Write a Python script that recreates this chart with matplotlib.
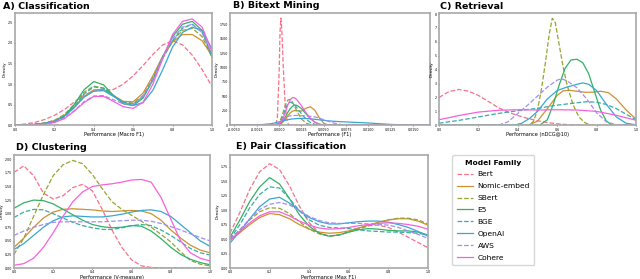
import matplotlib
matplotlib.use("Agg")
import matplotlib.pyplot as plt

families = ["Bert", "Nomic-embed", "SBert", "E5", "BGE", "OpenAI", "AWS", "Cohere"]
colors = ["#f77189", "#ce9032", "#97a431", "#32b166", "#36ada4", "#39a7d0", "#a48cf4", "#f561dd"]
styles = ["--", "-", "--", "-", "--", "-", "--", "-"]

# shared x grid for panels A, D, E
grid = [0.0, 0.05, 0.1, 0.15, 0.2, 0.25, 0.3, 0.35, 0.4, 0.45, 0.5,
        0.55, 0.6, 0.65, 0.7, 0.75, 0.8, 0.85, 0.9, 0.95, 1.0]

# A) Classification
cls_y = {
    "Bert":        [.01, .03, .07, .14, .24, .38, .56, .73, .83, .85, .87, 1.0, 1.2, 1.45, 1.72, 1.95, 2.05, 1.95, 1.70, 1.35, .94],
    "Nomic-embed": [0, .01, .02, .05, .11, .24, .45, .70, .86, .87, .72, .58, .57, .78, 1.20, 1.68, 2.02, 2.20, 2.20, 2.05, 1.68],
    "SBert":       [0, .01, .03, .06, .12, .26, .50, .80, .95, .90, .72, .56, .54, .72, 1.15, 1.65, 2.05, 2.30, 2.35, 2.15, 1.65],
    "E5":          [0, .01, .02, .04, .09, .22, .50, .86, 1.06, .98, .72, .52, .48, .66, 1.10, 1.66, 2.15, 2.45, 2.52, 2.30, 1.65],
    "BGE":         [0, .01, .02, .04, .09, .20, .44, .76, .93, .90, .72, .55, .52, .68, 1.10, 1.62, 2.05, 2.35, 2.45, 2.25, 1.70],
    "OpenAI":      [0, .01, .02, .05, .10, .22, .42, .68, .83, .84, .70, .56, .48, .55, .85, 1.35, 1.90, 2.25, 2.38, 2.30, 1.85],
    "AWS":         [0, 0, .01, .03, .07, .17, .35, .57, .71, .72, .62, .52, .52, .70, 1.12, 1.65, 2.10, 2.38, 2.45, 2.25, 1.72],
    "Cohere":      [0, 0, .01, .03, .07, .16, .34, .55, .70, .70, .58, .45, .41, .56, 1.00, 1.62, 2.20, 2.52, 2.58, 2.38, 1.78],
}

# B) Bitext Mining
bit_grid = [-0.0055, -0.005, -0.0025, -0.001, -0.0005, -0.00025, 0.0, 0.00025, 0.0005, 0.00075,
            0.001, 0.00125, 0.0015, 0.00175, 0.002, 0.0025, 0.003, 0.0035, 0.004, 0.0045,
            0.005, 0.0055, 0.006, 0.0065, 0.007, 0.0075, 0.01, 0.0125, 0.015, 0.0169]
bit_bert_x = [-0.0055, -0.0004, -0.0002, 0.0, 0.0001, 0.0002, 0.0003, 0.0005, 0.0007, 0.0009, 0.0011, 0.0169]
bit_bert_y = [0, 0, 120, 900, 1600, 1855, 1650, 900, 300, 60, 0, 0]
bit_y = {
    "Nomic-embed": [0, 0, 0, 0, 0, 2, 10, 30, 70, 120, 170, 215, 245, 255, 250, 245, 295, 320, 260, 130, 35, 6, 0, 0, 0, 0, 0, 0, 0, 0],
    "SBert":       [0, 0, 0, 0, 0, 5, 40, 130, 250, 370, 440, 450, 400, 320, 240, 110, 40, 10, 2, 0, 0, 0, 0, 0, 0, 0, 0, 0, 0, 0],
    "E5":          [0, 0, 0, 0, 0, 2, 15, 40, 90, 160, 230, 290, 330, 350, 345, 290, 200, 115, 55, 20, 6, 1, 0, 0, 0, 0, 0, 0, 0, 0],
    "BGE":         [0, 0, 0, 0, 0, 3, 25, 90, 190, 300, 380, 400, 385, 350, 300, 200, 110, 50, 18, 5, 1, 0, 0, 0, 0, 0, 0, 0, 0, 0],
    "OpenAI":      [0, 1, 5, 25, 40, 50, 60, 70, 80, 90, 98, 105, 110, 114, 117, 120, 118, 112, 104, 95, 86, 78, 71, 66, 62, 58, 40, 15, 3, 0],
    "AWS":         [0, 0, 0, 2, 10, 25, 50, 85, 115, 140, 155, 163, 168, 170, 170, 167, 162, 155, 145, 125, 98, 70, 45, 25, 12, 5, 0, 0, 0, 0],
    "Cohere":      [0, 0, 0, 0, 0, 3, 20, 60, 140, 250, 360, 440, 480, 475, 440, 340, 220, 120, 55, 20, 6, 1, 0, 0, 0, 0, 0, 0, 0, 0],
}

# C) Retrieval (own x points per family)
ret_x = {
    "Bert":        [0, .05, .1, .15, .2, .25, .3, .35, .4, .45, .5, .55, .6, .65, .7, .75, .8, 1.0],
    "Nomic-embed": [0, .45, .5, .55, .6, .63, .66, .7, .74, .78, .82, .86, .9, .95, 1.0],
    "SBert":       [0, .46, .48, .5, .52, .54, .56, .575, .59, .61, .63, .65, .68, .71, .74, .77, 1.0],
    "E5":          [0, .51, .55, .58, .61, .64, .67, .70, .73, .76, .79, .82, .85, .88, 1.0],
    "BGE":         [0, .1, .2, .3, .4, .5, .6, .7, .75, .8, .85, .9, .95, 1.0],
    "OpenAI":      [0, .38, .42, .46, .5, .55, .6, .65, .7, .73, .76, .8, .85, .9, .95, 1.0],
    "AWS":         [0, .3, .35, .4, .45, .5, .55, .6, .62, .65, .7, .75, .8, .85, .9, 1.0],
    "Cohere":      [0, .1, .2, .3, .4, .5, .6, .7, .8, .9, 1.0],
}
ret_y = {
    "Bert":        [2.0, 2.42, 2.58, 2.45, 2.15, 1.72, 1.28, .95, .7, .5, .33, .2, .11, .05, .02, .01, 0, 0],
    "Nomic-embed": [0, 0, .3, 1.2, 2.15, 2.48, 2.52, 2.45, 2.38, 2.38, 2.45, 2.35, 1.9, 1.1, .45],
    "SBert":       [0, 0, .3, 1.1, 2.6, 4.5, 6.6, 7.7, 7.4, 5.8, 4.2, 2.9, 1.5, .6, .2, 0, 0],
    "E5":          [0, 0, .4, 1.5, 2.9, 4.1, 4.7, 4.75, 4.5, 3.7, 2.4, 1.1, .3, 0, 0],
    "BGE":         [.15, .35, .6, .85, 1.05, 1.22, 1.45, 1.62, 1.7, 1.66, 1.5, 1.2, .8, .4],
    "OpenAI":      [0, 0, .15, .5, 1.0, 1.9, 2.5, 2.75, 2.95, 3.05, 2.95, 2.5, 1.5, .6, .15, .03],
    "AWS":         [0, 0, .25, .85, 1.45, 2.1, 2.75, 3.25, 3.35, 3.2, 2.7, 1.9, .9, .25, .03, 0],
    "Cohere":      [.4, .7, .95, 1.08, 1.12, 1.1, 1.12, 1.1, 1.0, .72, .36],
}

# D) Clustering
clu_y = {
    "Bert":        [1.76, 1.88, 1.70, 1.38, 1.27, 1.33, 1.48, 1.54, 1.42, 1.08, .70, .38, .15, .04, .01, 0, 0, 0, 0, 0, 0],
    "Nomic-embed": [.38, .55, .75, .92, 1.03, 1.08, 1.09, 1.08, 1.07, 1.05, 1.04, 1.05, 1.06, 1.05, 1.0, .88, .70, .55, .42, .33, .28],
    "SBert":       [.25, .55, .95, 1.35, 1.70, 1.90, 1.98, 1.92, 1.72, 1.46, 1.22, 1.08, .97, .86, .75, .62, .48, .30, .14, .07, .04],
    "E5":          [1.1, 1.2, 1.25, 1.24, 1.18, 1.08, .98, .88, .80, .76, .74, .75, .78, .77, .68, .54, .38, .25, .16, .10, .06],
    "BGE":         [.93, 1.03, 1.08, 1.07, 1.0, .92, .84, .78, .74, .71, .71, .74, .78, .80, .78, .70, .60, .48, .36, .28, .24],
    "OpenAI":      [.34, .45, .60, .75, .87, .94, .96, .95, .94, .94, .96, .99, 1.03, 1.06, 1.07, 1.04, .95, .80, .65, .50, .40],
    "AWS":         [.60, .68, .75, .80, .84, .85, .85, .85, .85, .85, .86, .87, .88, .88, .86, .82, .76, .70, .63, .56, .50],
    "Cohere":      [.05, .08, .18, .38, .65, .95, 1.22, 1.40, 1.50, 1.53, 1.55, 1.58, 1.62, 1.63, 1.58, 1.30, .90, .50, .28, .18, .13],
}

# E) Pair Classification
pair_y = {
    "Bert":        [.60, .96, 1.36, 1.66, 1.80, 1.70, 1.42, 1.07, .78, .61, .55, .57, .62, .69, .73, .74, .70, .62, .53, .44, .35],
    "Nomic-embed": [.48, .61, .75, .87, .94, .92, .85, .75, .67, .62, .60, .61, .64, .69, .74, .79, .83, .85, .85, .81, .74],
    "SBert":       [.50, .66, .83, .97, 1.04, 1.03, .94, .80, .67, .59, .55, .57, .62, .67, .73, .78, .83, .86, .86, .83, .76],
    "E5":          [.53, .83, 1.15, 1.40, 1.56, 1.45, 1.20, .92, .72, .60, .55, .57, .62, .66, .68, .67, .65, .64, .64, .62, .57],
    "BGE":         [.50, .75, 1.04, 1.27, 1.40, 1.38, 1.20, .99, .83, .74, .70, .69, .68, .66, .64, .63, .62, .62, .61, .60, .57],
    "OpenAI":      [.43, .63, .85, 1.06, 1.19, 1.22, 1.12, .99, .87, .80, .76, .76, .78, .80, .81, .81, .79, .75, .70, .63, .55],
    "AWS":         [.50, .66, .85, 1.01, 1.10, 1.13, 1.09, .99, .89, .82, .78, .77, .77, .77, .76, .75, .74, .70, .64, .58, .51],
    "Cohere":      [.48, .63, .78, .90, .97, .97, .90, .81, .74, .69, .67, .68, .70, .73, .75, .77, .78, .77, .75, .72, .67],
}


def style_axes(ax, xlabel, ylim):
    ax.set_ylim(0, ylim)
    ax.set_xlabel(xlabel, fontsize=3.6, labelpad=0.3)
    ax.set_ylabel("Density", fontsize=3, labelpad=0.8)
    ax.tick_params(labelsize=2.3, length=1.0, width=0.4, pad=0.6)
    for s in ax.spines.values():
        s.set_color("#a8a8a8")
        s.set_linewidth(1.2)


fig = plt.figure(figsize=(6.4, 2.79), dpi=100)
W, H = 640.0, 279.0

def add_ax(l, t, r, b):
    return fig.add_axes([l / W, 1 - b / H, (r - l) / W, (b - t) / H])

axA = add_ax(15, 12.7, 212, 125.3)
axB = add_ax(230, 12.7, 430, 125.3)
axC = add_ax(439, 12.7, 636, 125.3)
axD = add_ax(14, 155, 210, 268)
axE = add_ax(230, 155, 428, 268)

handles = []
for i, fam in enumerate(families):
    kw = dict(color=colors[i], ls=styles[i], lw=0.9)
    ln, = axA.plot(grid, cls_y[fam], **kw)
    handles.append(ln)
    if fam == "Bert":
        axB.plot(bit_bert_x, bit_bert_y, **kw)
    else:
        axB.plot(bit_grid, bit_y[fam], **kw)
    axC.plot(ret_x[fam], ret_y[fam], **kw)
    axD.plot(grid, clu_y[fam], **kw)
    axE.plot(grid, pair_y[fam], **kw)

for ax in (axA, axC, axD, axE):
    ax.set_xlim(0, 1)
axB.set_xlim(-0.0055, 0.0169)
axB.set_xticks([-0.005, -0.0025, 0, 0.0025, 0.005, 0.0075, 0.01, 0.0125, 0.015])
axB.xaxis.set_major_formatter(matplotlib.ticker.FormatStrFormatter("%.4f"))

style_axes(axA, "Performance (Macro F1)", 2.73)
style_axes(axB, "Performance (F1)", 1948)
style_axes(axC, "Performance (nDCG@10)", 8.1)
style_axes(axD, "Performance (V-measure)", 2.08)
style_axes(axE, "Performance (Max F1)", 1.95)

titles = [("A) Classification", 3, 6), ("B) Bitext Mining", 233, 6), ("C) Retrieval", 440, 6),
          ("D) Clustering", 16, 147), ("E) Pair Classification", 236, 147)]
for txt, x, y in titles:
    fig.text(x / W, 1 - y / H, txt, fontsize=6.8, fontweight="bold", va="center", ha="left")

fig.legend(handles, families, title="Model Family", loc="upper left",
           bbox_to_anchor=(452 / W, 1 - 155 / H), fontsize=5.4,
           title_fontproperties={"weight": "bold", "size": 5.4},
           labelspacing=0.75, handlelength=2.2, handletextpad=0.6,
           borderaxespad=0, borderpad=0.6,
           frameon=True, edgecolor="#cccccc")

fig.savefig("out.png", dpi=100)
